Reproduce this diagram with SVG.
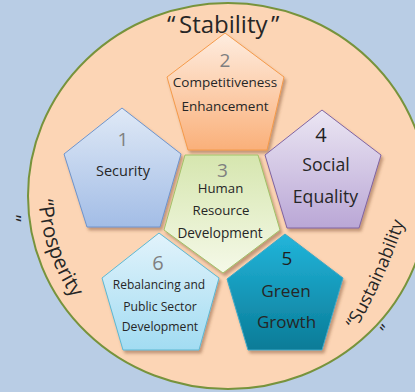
<svg xmlns="http://www.w3.org/2000/svg" width="415" height="392" viewBox="0 0 415 392">
<style>
  text { font-family: "Open Sans", "Liberation Sans", sans-serif; fill: #262626; }
  .lbl { text-anchor: middle; }
  .num { text-anchor: middle; fill: #7F7F7F; }
  .numd { text-anchor: middle; fill: #1F1F1F; }
  .pent { stroke-width: 1; filter: url(#sh); }
</style>
<defs>
  <filter id="sh" x="-20%" y="-20%" width="140%" height="140%">
    <feDropShadow dx="2" dy="3" stdDeviation="1.5" flood-color="#7a4a2a" flood-opacity="0.45"/>
  </filter>
  <linearGradient id="g1" x1="0" y1="0" x2="0" y2="1">
    <stop offset="0" stop-color="#DFE9F6"/><stop offset="1" stop-color="#A3BDE6"/>
  </linearGradient>
  <linearGradient id="g2" x1="0" y1="0" x2="0" y2="1">
    <stop offset="0" stop-color="#FEEDE0"/><stop offset="1" stop-color="#FAB07A"/>
  </linearGradient>
  <linearGradient id="g3" x1="0" y1="0" x2="0" y2="1">
    <stop offset="0" stop-color="#D6E6AF"/><stop offset="1" stop-color="#F5F9E8"/>
  </linearGradient>
  <linearGradient id="g4" x1="0" y1="0" x2="0" y2="1">
    <stop offset="0" stop-color="#EBE6F3"/><stop offset="1" stop-color="#BAA7D6"/>
  </linearGradient>
  <linearGradient id="g5" x1="0" y1="0" x2="0" y2="1">
    <stop offset="0" stop-color="#22B5DB"/><stop offset="1" stop-color="#0A7B97"/>
  </linearGradient>
  <linearGradient id="g6" x1="0" y1="0" x2="0" y2="1">
    <stop offset="0" stop-color="#E2F3FB"/><stop offset="1" stop-color="#A2DCF2"/>
  </linearGradient>
  <path id="arcP" d="M 38.1 191.9 A 200 200 0 0 0 200.8 382"/>
  <path id="arcS" d="M 354 333 Q 390 272 412 198"/>
</defs>

<rect width="415" height="392" fill="#B9CDE5"/>
<ellipse cx="228" cy="196" rx="200" ry="193" fill="#FCD5B5" stroke="#77933C" stroke-width="2"/>

<g id="labels-outer">
  <text y="33" font-size="24"><tspan x="167">“</tspan><tspan x="179">Stability</tspan><tspan x="271">”</tspan></text>
  <text font-size="20.5"><textPath href="#arcP" startOffset="8">“Prosperity</textPath></text>
  <text font-size="19.5" transform="rotate(90 6.5 215)" x="6.5" y="215">”</text>
  <text font-size="18"><textPath href="#arcS" startOffset="4">“Sustainability</textPath></text>
  <text font-size="17.5" transform="rotate(-60 390 335)" x="390" y="335">”</text>
</g>

<g id="node2">
  <polygon class="pent" points="225,33 284,77 267,150 188,150 167,77" fill="url(#g2)" stroke="#F59A4A"/>
  <text class="num" x="225" y="67" font-size="19">2</text>
  <text class="lbl" x="225" y="87" font-size="13.5">Competitiveness</text>
  <text class="lbl" x="225" y="111" font-size="13.5">Enhancement</text>
</g>

<g id="node1">
  <polygon class="pent" points="122,108 181,154 160,227 87,227 64,154" fill="url(#g1)" stroke="#6E94CC"/>
  <text class="num" x="123" y="146" font-size="19">1</text>
  <text class="lbl" x="123" y="176" font-size="14.5">Security</text>
</g>

<g id="node4">
  <polygon class="pent" points="322,110 381,155 359,228 287,228 265,155" fill="url(#g4)" stroke="#8064A2"/>
  <text class="numd" x="321" y="142" font-size="20">4</text>
  <text class="lbl" x="326" y="171" font-size="17.7">Social</text>
  <text class="lbl" x="325.5" y="203" font-size="17.7">Equality</text>
</g>

<g id="node3">
  <polygon class="pent" points="185,155 258,155 280,230 223,273 164,230" fill="url(#g3)" stroke="#A2C168"/>
  <text class="num" x="222.5" y="177" font-size="19">3</text>
  <text class="lbl" x="220.5" y="193" font-size="13.2">Human</text>
  <text class="lbl" x="221" y="215" font-size="13.2">Resource</text>
  <text class="lbl" x="220" y="238" font-size="13.6">Development</text>
</g>

<g id="node6">
  <polygon class="pent" points="159,233 219,278 199,350 123,350 102,278" fill="url(#g6)" stroke="#5DB8D2"/>
  <text class="num" x="158" y="270" font-size="20">6</text>
  <text class="lbl" x="159" y="289" font-size="12">Rebalancing and</text>
  <text class="lbl" x="160" y="311" font-size="12.2">Public Sector</text>
  <text class="lbl" x="160" y="331" font-size="12.2">Development</text>
</g>

<g id="node5">
  <polygon class="pent" points="285,234 343,278 322,350 248,350 227,279" fill="url(#g5)" stroke="#3FA9C6"/>
  <text class="numd" x="287" y="265" font-size="19">5</text>
  <text class="lbl" x="286" y="297" font-size="17.2">Green</text>
  <text class="lbl" x="286.5" y="328" font-size="17">Growth</text>
</g>

<g id="connectors"></g>
</svg>
